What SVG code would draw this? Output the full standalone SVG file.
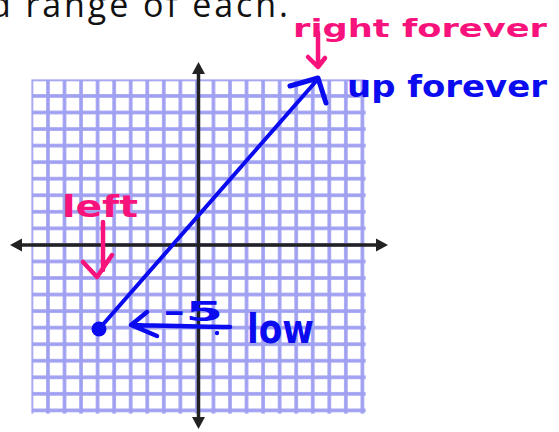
<svg xmlns="http://www.w3.org/2000/svg" width="559" height="432" viewBox="0 0 559 432">
<style>
.hdr{font-family:"Open Sans","Liberation Sans",sans-serif;font-weight:400;font-size:34px;fill:#111}
.hand{font-family:"DejaVu Sans","Liberation Sans",sans-serif;font-weight:bold}
.pink{fill:#f7127c}
.blue{fill:#0b0bf0}
.pinkS{fill:none;stroke:#f7127c;stroke-width:4.5;stroke-linecap:round;stroke-linejoin:round}
.blueS{fill:none;stroke:#0b0bf0;stroke-linecap:round;stroke-linejoin:round}
.axis{stroke:#222;stroke-width:3.5}
</style>
<defs>
<pattern id="cell" patternUnits="userSpaceOnUse" x="31.4" y="79.4" width="16.55" height="16.55">
<rect width="16.55" height="16.55" fill="#a0a0f2"/>
<rect x="1.8" y="1.8" width="12.95" height="12.95" fill="#ffffff"/>
</pattern>
</defs>
<rect width="559" height="432" fill="#ffffff"/>
<text class="hdr" x="-10" y="17" textLength="298" lengthAdjust="spacing">d range of each.</text>
<g id="grid">
<rect x="31.4" y="79.4" width="334.2" height="334.2" fill="url(#cell)"/>
</g>
<g id="axes">
<line class="axis" x1="18" y1="245" x2="380" y2="245"/>
<polygon points="388,245 376,238.5 376,251.5" fill="#222"/>
<polygon points="10,245 22,238.5 22,251.5" fill="#222"/>
<line class="axis" x1="198.5" y1="70" x2="198.5" y2="421"/>
<polygon points="198.5,62 192,74 205,74" fill="#222"/>
<polygon points="198.5,429 192,417 205,417" fill="#222"/>
</g>
<g id="connectors">
<line class="blueS" x1="99" y1="329" x2="318" y2="79" stroke-width="4"/>
<path class="blueS" d="M290,86 L318,78 L326,103" stroke-width="5"/>
<path class="pinkS" d="M318,33 L318,66 M308,57 L318,67 L325,58"/>
<path class="pinkS" d="M103,222 L103,270 M83,262 L97,277 L112,255" stroke-width="5.5"/>
<path class="blueS" d="M230,327 C200,327 170,326 131,325 M147,312 L131,325 L157,336" stroke-width="4.5"/>
</g>
<g id="start-point">
<circle cx="99" cy="329" r="7.5" fill="#0b0bf0"/>
</g>
<g id="label-right">
<text class="hand pink" x="293" y="37" font-size="25" textLength="254" lengthAdjust="spacingAndGlyphs">right forever</text>
</g>
<g id="label-up">
<text class="hand blue" x="347" y="97" font-size="30" textLength="200" lengthAdjust="spacingAndGlyphs">up forever</text>
</g>
<g id="label-left">
<text class="hand pink" x="62" y="217" font-size="30" textLength="76" lengthAdjust="spacingAndGlyphs">left</text>
</g>
<g id="label-minus5">
<text class="hand blue" x="163" y="321" font-size="26" textLength="60" lengthAdjust="spacingAndGlyphs">-5</text>
<circle cx="217" cy="333" r="2.2" fill="#0b0bf0"/>
</g>
<g id="label-low">
<text class="hand blue" x="247" y="343" font-size="40" textLength="67" lengthAdjust="spacingAndGlyphs">low</text>
</g>
</svg>
